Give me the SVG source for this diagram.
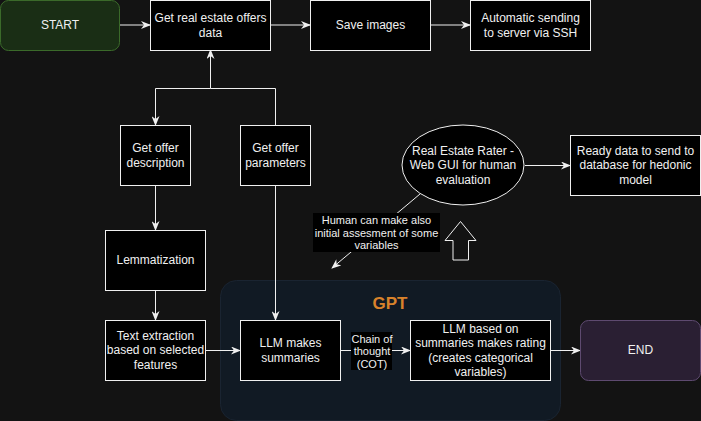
<svg xmlns="http://www.w3.org/2000/svg" width="701" height="421" viewBox="0 0 701 421">
<defs>
<style>
.n{fill:#000;stroke:#f0f0f0;stroke-width:1}
.t{font-family:"Liberation Sans",Arial,sans-serif;font-size:12px;fill:#f0f0f0;text-anchor:middle;dominant-baseline:central}
.s{font-size:11px}
.e{fill:none;stroke:#f0f0f0;stroke-width:1}
</style>
<marker id="a" viewBox="0 0 10 8" refX="9" refY="4" markerWidth="10" markerHeight="8" markerUnits="userSpaceOnUse" orient="auto">
<path d="M0,0 L10,4 L0,8 L3,4 z" fill="#f0f0f0"/>
</marker>
</defs>
<rect x="0" y="0" width="701" height="421" fill="#131313"/>
<g id="gpt">
<rect x="220.5" y="280.5" width="340" height="140" rx="16" fill="#111a24" stroke="#1a2431"/>
<text x="390" y="303" class="t" style="font-size:17px;font-weight:bold;fill:#d9822b">GPT</text>
</g>
<g id="connectors">
<path class="e" d="M120,25 H150" marker-end="url(#a)"/>
<path class="e" d="M270,25 H310" marker-end="url(#a)"/>
<path class="e" d="M430,25 H470" marker-end="url(#a)"/>
<path class="e" d="M275.5,125 V88.5 H210.5 V50" marker-end="url(#a)"/>
<path class="e" d="M210.5,88.5 H155.5 V125" marker-end="url(#a)"/>
<path class="e" d="M155.5,185 V230" marker-end="url(#a)"/>
<path class="e" d="M155.5,290 V320" marker-end="url(#a)"/>
<path class="e" d="M275.5,185 V320" marker-end="url(#a)"/>
<path class="e" d="M205,350.5 H240" marker-end="url(#a)"/>
<path class="e" d="M340,350.5 H410" marker-end="url(#a)"/>
<path class="e" d="M550,350.5 H580" marker-end="url(#a)"/>
<path class="e" d="M525,165.5 H570" marker-end="url(#a)"/>
<path class="e" d="M420,194 L332,268" marker-end="url(#a)"/>
<rect x="351" y="332" width="41" height="38" fill="#000"/>
<text class="t s" x="372" y="338.5">Chain of</text>
<text class="t s" x="372" y="351">thought</text>
<text class="t s" x="372" y="364">(COT)</text>
<rect x="313" y="213" width="127" height="39" fill="#000"/>
<text class="t s" x="376.5" y="219.5">Human can make also</text>
<text class="t s" x="376.5" y="232.5">initial assesment of some</text>
<text class="t s" x="376.5" y="245">variables</text>
</g>
<g id="start">
<rect x="0.5" y="0.5" width="119" height="50" rx="8" fill="#1a2e15" stroke="#3b6a2a"/>
<text class="t" x="60" y="25">START</text>
</g>
<g id="get-data">
<rect class="n" x="150.5" y="0.5" width="120" height="50"/>
<text class="t" x="210.5" y="17.5">Get real estate offers</text>
<text class="t" x="210.5" y="32.5">data</text>
</g>
<g id="save-images">
<rect class="n" x="310.5" y="0.5" width="120" height="50"/>
<text class="t" x="370.5" y="25">Save images</text>
</g>
<g id="ssh">
<rect class="n" x="470.5" y="0.5" width="120" height="50"/>
<text class="t" x="530.5" y="17.5">Automatic sending</text>
<text class="t" x="530.5" y="32.5">to server via SSH</text>
</g>
<g id="desc">
<rect class="n" x="120.5" y="125.5" width="70" height="60"/>
<text class="t" x="155.5" y="148">Get offer</text>
<text class="t" x="155.5" y="163">description</text>
</g>
<g id="params">
<rect class="n" x="240.5" y="125.5" width="70" height="60"/>
<text class="t" x="275.5" y="148">Get offer</text>
<text class="t" x="275.5" y="163">parameters</text>
</g>
<g id="lemma">
<rect class="n" x="105.5" y="230.5" width="100" height="60"/>
<text class="t" x="155.5" y="260">Lemmatization</text>
</g>
<g id="extract">
<rect class="n" x="105.5" y="320.5" width="100" height="60"/>
<text class="t" x="155.5" y="335.5">Text extraction</text>
<text class="t" x="155.5" y="350">based on selected</text>
<text class="t" x="155.5" y="364.5">features</text>
</g>
<g id="summaries">
<rect class="n" x="240.5" y="320.5" width="100" height="60"/>
<text class="t" x="290.5" y="343">LLM makes</text>
<text class="t" x="290.5" y="358">summaries</text>
</g>
<g id="rating">
<rect class="n" x="410.5" y="320.5" width="140" height="60"/>
<text class="t" x="480.5" y="328.5">LLM based on</text>
<text class="t" x="480.5" y="343">summaries makes rating</text>
<text class="t" x="480.5" y="357.5">(creates categorical</text>
<text class="t" x="480.5" y="371.5">variables)</text>
</g>
<g id="end">
<rect x="580.5" y="320.5" width="120" height="60" rx="8" fill="#2a1f33" stroke="#5e4a70"/>
<text class="t" x="640.5" y="350">END</text>
</g>
<g id="rater">
<ellipse class="n" cx="463" cy="165" rx="61" ry="40"/>
<text class="t" x="463" y="151">Real Estate Rater -</text>
<text class="t" x="463" y="165">Web GUI for human</text>
<text class="t" x="463" y="179.5">evaluation</text>
</g>
<g id="ready">
<rect class="n" x="570.5" y="135.5" width="130" height="60"/>
<text class="t" x="635.5" y="151">Ready data to send to</text>
<text class="t" x="635.5" y="165">database for hedonic</text>
<text class="t" x="635.5" y="180">model</text>
</g>
<g id="up-arrow">
<path d="M460.5,221.5 L476,240.5 H468.5 V260 H453 V240.5 H445 Z" fill="none" stroke="#f0f0f0"/>
</g>
</svg>
